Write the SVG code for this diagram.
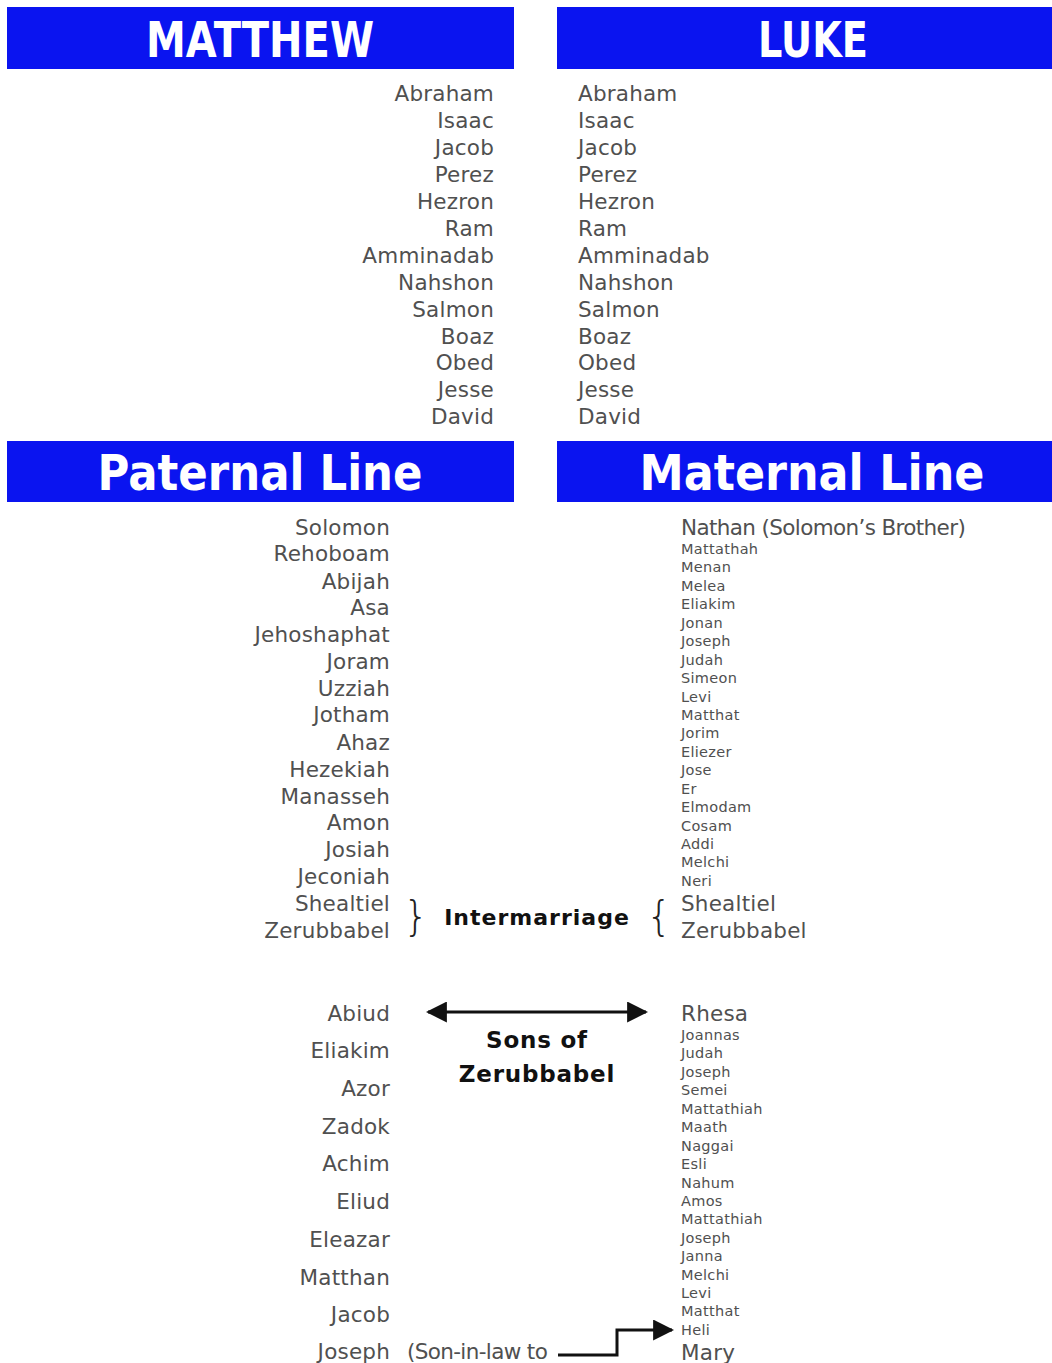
<svg xmlns="http://www.w3.org/2000/svg" width="1052" height="1363" viewBox="0 0 1052 1363">
<style>
.bar{fill:#0a14f0}
.hd{font-family:"DejaVu Sans","Liberation Sans",sans-serif;font-weight:bold;fill:#fff;text-anchor:middle}
.n{font-family:"DejaVu Sans","Liberation Sans",sans-serif;font-size:21.5px;fill:#505050;letter-spacing:0.2px}
.s{font-family:"DejaVu Sans","Liberation Sans",sans-serif;font-size:14.5px;fill:#505050;letter-spacing:0.3px}
.r{text-anchor:end}
.b{font-family:"DejaVu Sans","Liberation Sans",sans-serif;font-weight:bold;fill:#111;text-anchor:middle}
.br{font-family:"DejaVu Sans","Liberation Sans",sans-serif;font-weight:300;font-size:40px;fill:#222;text-anchor:middle}
.ln{stroke:#111;stroke-width:3;fill:none}
</style>
<defs>
<marker id="ah" viewBox="0 0 10 10" refX="9" refY="5" markerWidth="7" markerHeight="7" markerUnits="strokeWidth" orient="auto-start-reverse">
<path d="M0,0 L10,5 L0,10 Z" fill="#111"/>
</marker>
</defs>

<g id="header-matthew"><rect class="bar" x="7" y="7" width="507" height="62"/><text class="hd" x="260" y="57" font-size="50" textLength="228" lengthAdjust="spacingAndGlyphs">MATTHEW</text></g>
<g id="header-luke"><rect class="bar" x="557" y="7" width="495" height="62"/><text class="hd" x="813" y="57" font-size="50" textLength="110" lengthAdjust="spacingAndGlyphs">LUKE</text></g>

<g id="matthew-common">
<text class="n r" x="494" y="101">Abraham</text>
<text class="n r" x="494" y="128">Isaac</text>
<text class="n r" x="494" y="155">Jacob</text>
<text class="n r" x="494" y="182">Perez</text>
<text class="n r" x="494" y="209">Hezron</text>
<text class="n r" x="494" y="236">Ram</text>
<text class="n r" x="494" y="263">Amminadab</text>
<text class="n r" x="494" y="290">Nahshon</text>
<text class="n r" x="494" y="317">Salmon</text>
<text class="n r" x="494" y="344">Boaz</text>
<text class="n r" x="494" y="370">Obed</text>
<text class="n r" x="494" y="397">Jesse</text>
<text class="n r" x="494" y="424">David</text>
</g>
<g id="luke-common">
<text class="n" x="578" y="101">Abraham</text>
<text class="n" x="578" y="128">Isaac</text>
<text class="n" x="578" y="155">Jacob</text>
<text class="n" x="578" y="182">Perez</text>
<text class="n" x="578" y="209">Hezron</text>
<text class="n" x="578" y="236">Ram</text>
<text class="n" x="578" y="263">Amminadab</text>
<text class="n" x="578" y="290">Nahshon</text>
<text class="n" x="578" y="317">Salmon</text>
<text class="n" x="578" y="344">Boaz</text>
<text class="n" x="578" y="370">Obed</text>
<text class="n" x="578" y="397">Jesse</text>
<text class="n" x="578" y="424">David</text>
</g>

<g id="header-paternal"><rect class="bar" x="7" y="441" width="507" height="61"/><text class="hd" x="260" y="490" font-size="50" textLength="325" lengthAdjust="spacingAndGlyphs">Paternal Line</text></g>
<g id="header-maternal"><rect class="bar" x="557" y="441" width="495" height="61"/><text class="hd" x="812" y="490" font-size="50" textLength="345" lengthAdjust="spacingAndGlyphs">Maternal Line</text></g>

<g id="paternal-line">
<text class="n r" x="390" y="535">Solomon</text>
<text class="n r" x="390" y="561">Rehoboam</text>
<text class="n r" x="390" y="589">Abijah</text>
<text class="n r" x="390" y="615">Asa</text>
<text class="n r" x="390" y="642">Jehoshaphat</text>
<text class="n r" x="390" y="669">Joram</text>
<text class="n r" x="390" y="696">Uzziah</text>
<text class="n r" x="390" y="722">Jotham</text>
<text class="n r" x="390" y="750">Ahaz</text>
<text class="n r" x="390" y="777">Hezekiah</text>
<text class="n r" x="390" y="804">Manasseh</text>
<text class="n r" x="390" y="830">Amon</text>
<text class="n r" x="390" y="857">Josiah</text>
<text class="n r" x="390" y="884">Jeconiah</text>
<text class="n r" x="390" y="911">Shealtiel</text>
<text class="n r" x="390" y="938">Zerubbabel</text>
</g>

<g id="maternal-line">
<text class="n" x="681" y="535" textLength="285" lengthAdjust="spacing">Nathan (Solomon’s Brother)</text>
<text class="s" x="681" y="554">Mattathah</text>
<text class="s" x="681" y="572">Menan</text>
<text class="s" x="681" y="591">Melea</text>
<text class="s" x="681" y="609">Eliakim</text>
<text class="s" x="681" y="628">Jonan</text>
<text class="s" x="681" y="646">Joseph</text>
<text class="s" x="681" y="665">Judah</text>
<text class="s" x="681" y="683">Simeon</text>
<text class="s" x="681" y="702">Levi</text>
<text class="s" x="681" y="720">Matthat</text>
<text class="s" x="681" y="738">Jorim</text>
<text class="s" x="681" y="757">Eliezer</text>
<text class="s" x="681" y="775">Jose</text>
<text class="s" x="681" y="794">Er</text>
<text class="s" x="681" y="812">Elmodam</text>
<text class="s" x="681" y="831">Cosam</text>
<text class="s" x="681" y="849">Addi</text>
<text class="s" x="681" y="867">Melchi</text>
<text class="s" x="681" y="886">Neri</text>
<text class="n" x="681" y="911">Shealtiel</text>
<text class="n" x="681" y="938">Zerubbabel</text>
</g>

<g id="intermarriage">
<text class="br" x="416" y="930">}</text>
<text class="b" x="537" y="925" font-size="22" letter-spacing="1">Intermarriage</text>
<text class="br" x="659" y="930">{</text>
</g>

<g id="sons-of-zerubbabel">
<text class="b" x="537" y="1048" font-size="23" letter-spacing="0.8">Sons of</text>
<text class="b" x="537" y="1082" font-size="23" letter-spacing="0.8">Zerubbabel</text>
</g>

<g id="matthew-lower">
<text class="n r" x="390" y="1021">Abiud</text>
<text class="n r" x="390" y="1058">Eliakim</text>
<text class="n r" x="390" y="1096">Azor</text>
<text class="n r" x="390" y="1134">Zadok</text>
<text class="n r" x="390" y="1171">Achim</text>
<text class="n r" x="390" y="1209">Eliud</text>
<text class="n r" x="390" y="1247">Eleazar</text>
<text class="n r" x="390" y="1285">Matthan</text>
<text class="n r" x="390" y="1322">Jacob</text>
<text class="n r" x="390" y="1359">Joseph</text>
<text class="n" x="407" y="1359" textLength="141" lengthAdjust="spacing">(Son-in-law to</text>
</g>

<g id="luke-lower">
<text class="n" x="681" y="1021">Rhesa</text>
<text class="s" x="681" y="1040">Joannas</text>
<text class="s" x="681" y="1058">Judah</text>
<text class="s" x="681" y="1077">Joseph</text>
<text class="s" x="681" y="1095">Semei</text>
<text class="s" x="681" y="1114">Mattathiah</text>
<text class="s" x="681" y="1132">Maath</text>
<text class="s" x="681" y="1151">Naggai</text>
<text class="s" x="681" y="1169">Esli</text>
<text class="s" x="681" y="1188">Nahum</text>
<text class="s" x="681" y="1206">Amos</text>
<text class="s" x="681" y="1224">Mattathiah</text>
<text class="s" x="681" y="1243">Joseph</text>
<text class="s" x="681" y="1261">Janna</text>
<text class="s" x="681" y="1280">Melchi</text>
<text class="s" x="681" y="1298">Levi</text>
<text class="s" x="681" y="1316">Matthat</text>
<text class="s" x="681" y="1335">Heli</text>
<text class="n" x="681" y="1360">Mary</text>
</g>

<g id="connectors">
<line class="ln" x1="428" y1="1012" x2="646" y2="1012" marker-start="url(#ah)" marker-end="url(#ah)"/>
<polyline class="ln" points="558,1355 617,1355 617,1330 672,1330" marker-end="url(#ah)"/>
</g>
</svg>
